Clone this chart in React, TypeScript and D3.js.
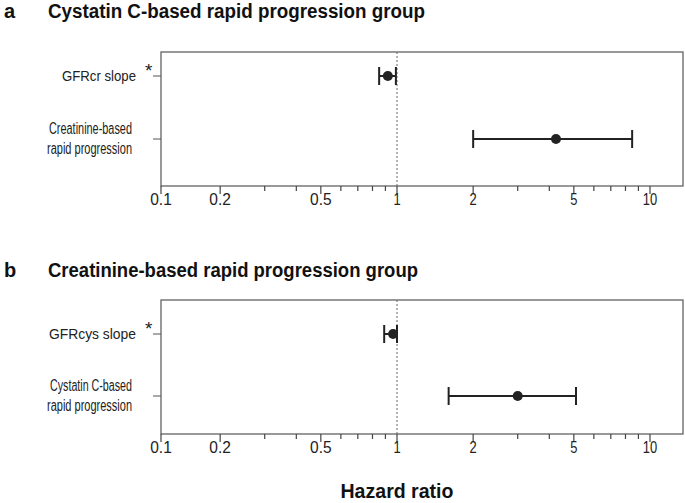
import React from "react";
import * as d3 from "d3";

const panelLetters = ["a", "b"];
const panelTitles = [
  "Cystatin C-based rapid progression group",
  "Creatinine-based rapid progression group",
];
const rowLabelsA = [["GFRcr slope"], ["Creatinine-based", "rapid progression"]];
const rowLabelsB = [["GFRcys slope"], ["Cystatin C-based", "rapid progression"]];
const starredA = [true, false];
const starredB = [true, false];
const hrA = [0.92, 4.25];
const loA = [0.85, 2.0];
const hiA = [0.99, 8.5];
const hrB = [0.965, 3.0];
const loB = [0.89, 1.6];
const hiB = [1.0, 5.1];
const majorTicks = [0.1, 0.2, 0.5, 1, 2, 5, 10];
const minorTicks = [0.3, 0.4, 0.6, 0.7, 0.8, 0.9, 3, 4, 6, 7, 8, 9];
const xLabel = "Hazard ratio";

const W = 685;
const H = 503;
const boxL = 161;
const boxR = 683;
const boxH = 134;
const FONT = "Liberation Sans, Arial, sans-serif";

// rendered widths of the row labels (style only)
const labelWidthA = [[74], [83, 85]];
const labelWidthB = [[87], [82, 85]];

const x = d3
  .scaleLog()
  .domain([Math.pow(10, -(397 - boxL) / 253), Math.pow(10, (boxR - 397) / 253)])
  .range([boxL, boxR])
  .clamp(true);

const fmt = (v: number) => String(v);

function Panel({
  top,
  titleY,
  letter,
  title,
  titleW,
  labels,
  widths,
  starred,
  hr,
  lo,
  hi,
  rowOffsets,
}: any) {
  const y = d3.scaleLinear().domain([0, 1]).range([top + rowOffsets[0], top + rowOffsets[1]]);
  const bottom = top + boxH;
  return (
    <g>
      <text x={4} y={titleY} fontFamily={FONT} fontWeight="bold" fontSize={20} fill="#111">
        {letter}
      </text>
      <text
        x={48}
        y={titleY}
        fontFamily={FONT}
        fontWeight="bold"
        fontSize={20}
        fill="#111"
        textLength={titleW}
        lengthAdjust="spacingAndGlyphs"
      >
        {title}
      </text>
      <rect x={boxL} y={top} width={boxR - boxL} height={boxH} fill="none" stroke="#555" strokeWidth={1.2} />
      <line x1={x(1)} x2={x(1)} y1={top} y2={bottom} stroke="#666" strokeWidth={1} strokeDasharray="2,2" />
      {labels.map((lines: string[], i: number) => {
        const yc = y(i);
        const n = lines.length;
        const xr = starred[i] ? 136 : 132;
        const fs = n > 1 ? 16 : 15;
        return (
          <g key={i}>
            <line x1={boxL - 8} x2={boxL} y1={yc} y2={yc} stroke="#555" strokeWidth={1} />
            {lines.map((l, j) => (
              <text
                key={j}
                x={xr}
                y={yc + 5 + (j - (n - 1) / 2) * 20}
                textAnchor="end"
                fontFamily={FONT}
                fontSize={fs}
                fill="#222"
                textLength={widths[i][j]}
                lengthAdjust="spacingAndGlyphs"
              >
                {l}
              </text>
            ))}
            {starred[i] && (
              <text x={xr + 9} y={yc + 1} fontFamily={FONT} fontSize={19} fill="#222">
                *
              </text>
            )}
            <line x1={x(lo[i])} x2={x(hi[i])} y1={yc} y2={yc} stroke="#222" strokeWidth={2} />
            <line x1={x(lo[i])} x2={x(lo[i])} y1={yc - 9} y2={yc + 9} stroke="#222" strokeWidth={2} />
            <line x1={x(hi[i])} x2={x(hi[i])} y1={yc - 9} y2={yc + 9} stroke="#222" strokeWidth={2} />
            <circle cx={x(hr[i])} cy={yc} r={5} fill="#222" />
          </g>
        );
      })}
      {majorTicks.map((t) => (
        <g key={"M" + t}>
          <line x1={x(t)} x2={x(t)} y1={bottom} y2={bottom + 8} stroke="#444" strokeWidth={1.2} />
          <text
            x={x(t)}
            y={bottom + 19}
            textAnchor="middle"
            fontFamily={FONT}
            fontSize={16.5}
            fill="#222"
            textLength={fmt(t).length * 7.2}
            lengthAdjust="spacingAndGlyphs"
          >
            {fmt(t)}
          </text>
        </g>
      ))}
      {minorTicks.map((t) => (
        <line key={"m" + t} x1={x(t)} x2={x(t)} y1={bottom} y2={bottom + 5} stroke="#444" strokeWidth={1.2} />
      ))}
    </g>
  );
}

export default function App() {
  return (
    <svg width={W} height={H} style={{ position: "absolute", left: 0, top: 0, background: "#fff" }}>
      <rect width={W} height={H} fill="#fff" />
      <Panel
        top={52}
        titleY={18}
        letter={panelLetters[0]}
        title={panelTitles[0]}
        titleW={377}
        labels={rowLabelsA}
        widths={labelWidthA}
        starred={starredA}
        hr={hrA}
        lo={loA}
        hi={hiA}
        rowOffsets={[24, 87]}
      />
      <Panel
        top={300}
        titleY={277}
        letter={panelLetters[1]}
        title={panelTitles[1]}
        titleW={370}
        labels={rowLabelsB}
        widths={labelWidthB}
        starred={starredB}
        hr={hrB}
        lo={loB}
        hi={hiB}
        rowOffsets={[34, 96]}
      />
      <text
        x={397}
        y={498}
        textAnchor="middle"
        fontFamily={FONT}
        fontWeight="bold"
        fontSize={21}
        fill="#111"
        textLength={113}
        lengthAdjust="spacingAndGlyphs"
      >
        {xLabel}
      </text>
    </svg>
  );
}
